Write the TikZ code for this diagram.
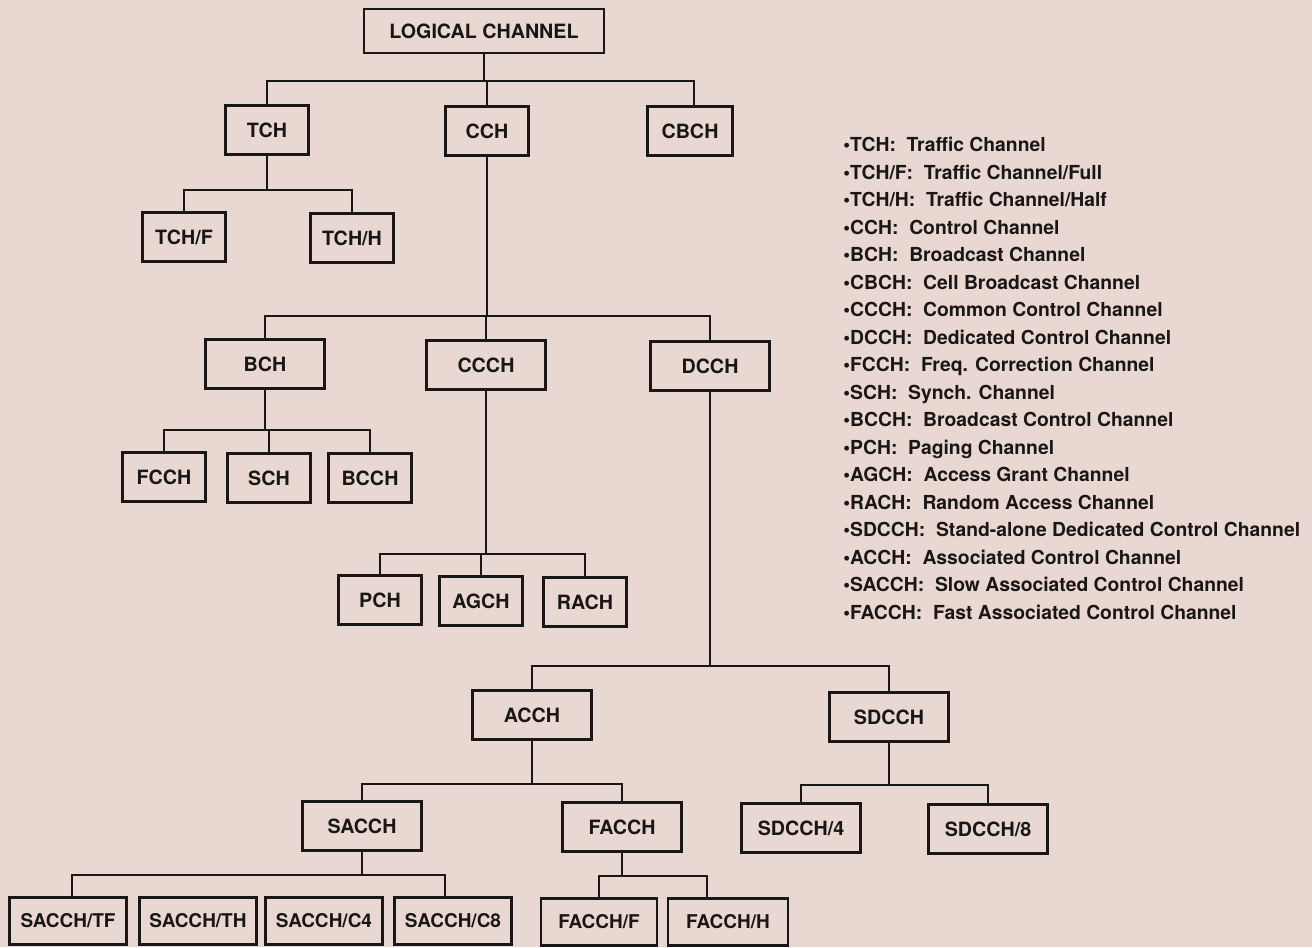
\documentclass[tikz,border=0pt]{standalone}
\usepackage{fontspec}
\setmainfont{TeX Gyre Heros}
\definecolor{paper}{RGB}{233,216,210}
\definecolor{ink}{RGB}{25,22,22}
\tikzset{
  chan/.style={draw=ink, line width=1.3pt, inner sep=0pt, minimum width=1.66cm,
    minimum height=0.98cm, text=ink, font=\fontsize{11.2}{12}\selectfont\bfseries},
  chanw/.style={chan, minimum width=2.38cm},
  leaf/.style={chanw, minimum width=2.34cm, minimum height=0.94cm,
    font=\fontsize{10.8}{12}\selectfont\bfseries},
  link/.style={draw=ink, line width=1.2pt}
}
\begin{document}
\begin{tikzpicture}[x=0.02cm, y=-0.02cm]
    \fill[paper] (0,0) rectangle (1312,947);
    \useasboundingbox (0,0) rectangle (1312,947);

    % top level
    \node[chan, minimum width=4.8cm, minimum height=0.88cm] (lc) at (484,31) {LOGICAL CHANNEL};
    \node[chan] (tch) at (267,130) {TCH};
    \node[chan] (cch) at (487,131) {CCH};
    \node[chan, minimum width=1.7cm] (cbch) at (690,131) {CBCH};

    % traffic
    \node[chan] (tchf) at (184,237) {TCH/F};
    \node[chan] (tchh) at (352,238) {TCH/H};

    % control
    \node[chanw] (bch) at (265,364) {BCH};
    \node[chanw] (ccch) at (486,365) {CCCH};
    \node[chanw] (dcch) at (710,366) {DCCH};

    \node[chan] (fcch) at (164,477) {FCCH};
    \node[chan] (sch) at (269,478) {SCH};
    \node[chan] (bcch) at (370,478) {BCCH};

    \node[chan] (pch) at (380,600) {PCH};
    \node[chan] (agch) at (481,601) {AGCH};
    \node[chan] (rach) at (585,602) {RACH};

    % dedicated
    \node[chanw] (acch) at (532,715) {ACCH};
    \node[chanw] (sdcch) at (889,717) {SDCCH};

    \node[chanw] (sacch) at (362,826) {SACCH};
    \node[chanw] (facch) at (622,827) {FACCH};
    \node[chanw] (sdcchf) at (801,828) {SDCCH/4};
    \node[chanw] (sdcche) at (988,829) {SDCCH/8};

    \node[leaf] (sacchtf) at (68,921) {SACCH/TF};
    \node[leaf] (sacchth) at (198,921) {SACCH/TH};
    \node[leaf] (sacchcf) at (324,921) {SACCH/C4};
    \node[leaf] (sacchce) at (453,921) {SACCH/C8};
    \node[leaf, minimum width=2.32cm] (facchf) at (599,922) {FACCH/F};
    \node[leaf, minimum width=2.4cm] (facchh) at (728,922) {FACCH/H};

    % logical channel to tch, cch, cbch
    \draw[link] (lc.south) -- ++(0,27) -| (tch.north);
    \draw[link] (lc.south) -- ++(0,27) -| (cch.north);
    \draw[link] (lc.south) -- ++(0,27) -| ([xshift=0.08cm]cbch.north);

    % tch to full and half
    \draw[link] (tch.south) -- ++(0,34) -| (tchf.north);
    \draw[link] (tch.south) -- ++(0,34) -| (tchh.north);

    % cch to bch, ccch, dcch
    \draw[link] (cch.south) -- ++(0,159) -| (bch.north);
    \draw[link] (cch.south) -- ++(0,159) -| (ccch.north);
    \draw[link] (cch.south) -- ++(0,159) -| (dcch.north);

    % bch children
    \draw[link] (bch.south) -- ++(0,40) -| (fcch.north);
    \draw[link] (bch.south) -- ++(0,40) -| (sch.north);
    \draw[link] (bch.south) -- ++(0,40) -| (bcch.north);

    % ccch children
    \draw[link] (ccch.south) -- ++(0,163) -| (pch.north);
    \draw[link] (ccch.south) -- ++(0,163) -| (agch.north);
    \draw[link] (ccch.south) -- ++(0,163) -| (rach.north);

    % dcch to acch and sdcch
    \draw[link] (dcch.south) -- ++(0,274) -| (acch.north);
    \draw[link] (dcch.south) -- ++(0,274) -| (sdcch.north);

    % acch to sacch and facch
    \draw[link] (acch.south) -- ++(0,43) -| (sacch.north);
    \draw[link] (acch.south) -- ++(0,43) -| (facch.north);

    % sdcch to /4 and /8
    \draw[link] (sdcch.south) -- ++(0,42) -| (sdcchf.north);
    \draw[link] (sdcch.south) -- ++(0,42) -| (sdcche.north);

    % sacch bus, outer drops only
    \draw[link] (sacch.south) -- ++(0,23) -| ([xshift=0.08cm]sacchtf.north);
    \draw[link] (sacch.south) -- ++(0,23) -| ([xshift=-0.16cm]sacchce.north);

    % facch to full and half
    \draw[link] (facch.south) -- ++(0,23) -| (facchf.north);
    \draw[link] (facch.south) -- ++(0,23) -| ([xshift=-0.42cm]facchh.north);

    % legend
    \node[anchor=north west, align=left, inner sep=0pt, text=ink,
          font=\fontsize{11}{15.65}\selectfont\bfseries] (legend) at (843,137) {%
      •TCH:~ Traffic Channel\\
      •TCH/F:~ Traffic Channel/Full\\
      •TCH/H:~ Traffic Channel/Half\\
      •CCH:~ Control Channel\\
      •BCH:~ Broadcast Channel\\
      •CBCH:~ Cell Broadcast Channel\\
      •CCCH:~ Common Control Channel\\
      •DCCH:~ Dedicated Control Channel\\
      •FCCH:~ Freq. Correction Channel\\
      •SCH:~ Synch. Channel\\
      •BCCH:~ Broadcast Control Channel\\
      •PCH:~ Paging Channel\\
      •AGCH:~ Access Grant Channel\\
      •RACH:~ Random Access Channel\\
      •SDCCH:~ Stand-alone Dedicated Control Channel\\
      •ACCH:~ Associated Control Channel\\
      •SACCH:~ Slow Associated Control Channel\\
      •FACCH:~ Fast Associated Control Channel};

\end{tikzpicture}
\end{document}
